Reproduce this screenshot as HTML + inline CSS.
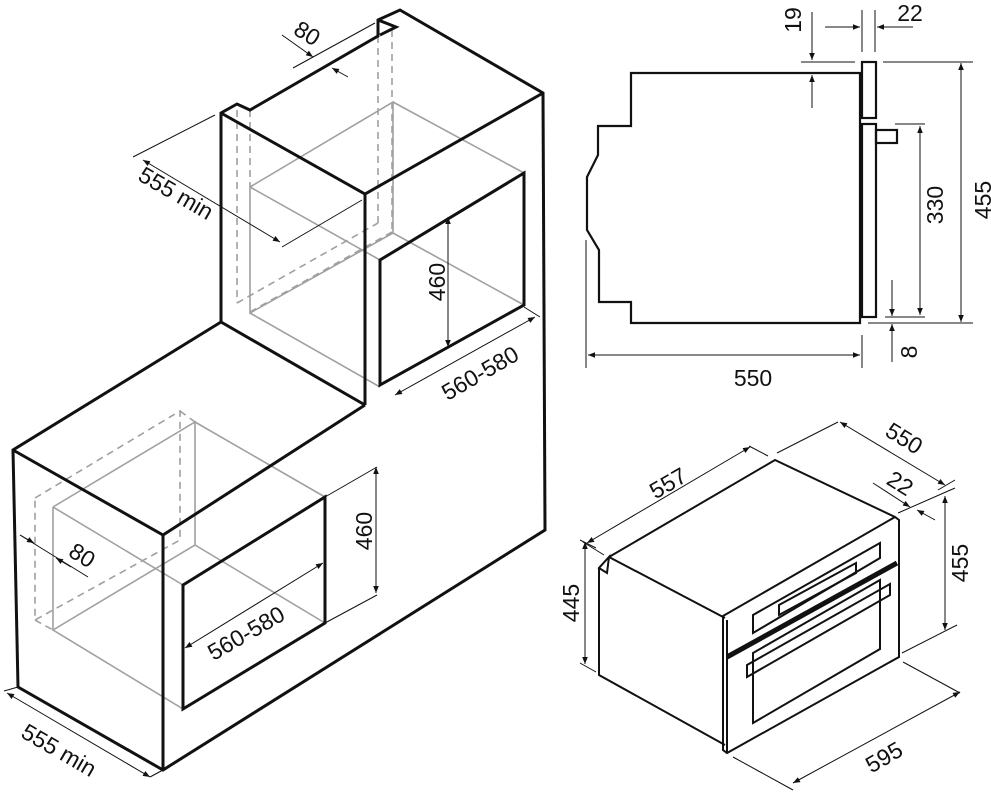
<!DOCTYPE html>
<html><head><meta charset="utf-8"><style>
html,body{margin:0;padding:0;background:#fff}
svg{display:block}
text{font-family:"Liberation Sans",sans-serif;font-size:23px;fill:#111}
</style></head><body>
<svg width="991" height="792" viewBox="0 0 991 792" xmlns="http://www.w3.org/2000/svg">
<defs>
<marker id="a" viewBox="0 0 10 10" refX="10" refY="5" markerWidth="9" markerHeight="7" orient="auto-start-reverse" markerUnits="userSpaceOnUse"><path d="M0,1 L10,5 L0,9 z" fill="#111"/></marker>
</defs>
<g fill="none" stroke-linejoin="miter">
<g stroke="#a0a0a0" stroke-width="1.6">
<polyline points="250,187 393,102 393,233 250,313 250,187"/>
<line x1="393" y1="102" x2="524" y2="173"/>
<line x1="250" y1="187" x2="380" y2="260"/>
<line x1="393" y1="233" x2="524" y2="305"/>
<line x1="250" y1="313" x2="380" y2="387"/>
</g>
<g stroke="#a0a0a0" stroke-width="1.6" stroke-dasharray="7,5">
<line x1="237" y1="110" x2="237" y2="303"/>
<line x1="250" y1="110" x2="250" y2="187"/>
<line x1="378" y1="36" x2="378" y2="223"/>
<line x1="392" y1="30" x2="392" y2="230"/>
<line x1="237" y1="303" x2="378" y2="223"/>
<line x1="250" y1="312" x2="392" y2="232"/>
</g>
<g stroke="#a0a0a0" stroke-width="1.6">
<polyline points="53,507 195,422 195,545 53,630 53,507"/>
<line x1="195" y1="422" x2="325" y2="497"/>
<line x1="53" y1="507" x2="183" y2="585"/>
<line x1="195" y1="545" x2="325" y2="623"/>
<line x1="53" y1="630" x2="183" y2="709"/>
</g>
<g stroke="#a0a0a0" stroke-width="1.6" stroke-dasharray="7,5">
<polyline points="35,498 180,411 180,540 35,620 35,498"/>
<line x1="180" y1="411" x2="195" y2="422"/>
<line x1="35" y1="620" x2="53" y2="630"/>
</g>
<g stroke="#111" stroke-width="3">
<polyline points="221,322 221,113 237,104 250,110 378,36 378,20 400,10 543,93 545,530 163,770 18,687 13,450 221,322"/>
<polyline points="378,20 396,27 380,35"/>
<polyline points="221,113 365,194 543,93"/>
<line x1="365" y1="194" x2="365" y2="405"/>
<line x1="221" y1="322" x2="365" y2="405"/>
<polyline points="13,450 163,535 365,405"/>
<line x1="163" y1="535" x2="163" y2="770"/>
<polygon points="380,260 524,173 524,305 380,385"/>
<polygon points="183,585 325,497 325,623 183,709"/>
</g>
<g stroke="#111" stroke-width="1">
<line x1="293" y1="68" x2="375" y2="23"/>
<line x1="282" y1="35" x2="313" y2="57" marker-end="url(#a)"/>
<line x1="348" y1="77" x2="332" y2="68" marker-end="url(#a)"/>
<line x1="133" y1="157" x2="215" y2="115"/>
<line x1="282" y1="247" x2="362" y2="200"/>
<line x1="143" y1="160" x2="280" y2="242" marker-start="url(#a)" marker-end="url(#a)"/>
<line x1="448" y1="217" x2="448" y2="347" marker-start="url(#a)" marker-end="url(#a)"/>
<line x1="524" y1="307" x2="540" y2="317"/>
<line x1="395" y1="395" x2="535" y2="317" marker-start="url(#a)" marker-end="url(#a)"/>
<line x1="20" y1="535" x2="88" y2="577"/>
<line x1="20" y1="535" x2="34" y2="543" marker-end="url(#a)"/>
<line x1="71" y1="567" x2="56" y2="558" marker-end="url(#a)"/>
<line x1="325" y1="497" x2="377" y2="467"/>
<line x1="325" y1="623" x2="377" y2="595"/>
<line x1="376" y1="467" x2="376" y2="593" marker-start="url(#a)" marker-end="url(#a)"/>
<line x1="185" y1="648" x2="323" y2="563" marker-start="url(#a)" marker-end="url(#a)"/>
<line x1="4" y1="691" x2="18" y2="687"/>
<line x1="150" y1="777" x2="163" y2="770"/>
<line x1="7" y1="693" x2="150" y2="777" marker-start="url(#a)" marker-end="url(#a)"/>
</g>
<g stroke="#111" stroke-width="2.2">
<polygon points="631,73 860,73 860,323 631,323 631,302 599,302 599,250 587,230 587,177 598,155 598,126 631,126"/>
<rect x="862" y="62" width="14" height="56"/>
<rect x="862" y="124" width="14" height="193"/>
<rect x="876" y="130" width="21" height="13"/>
</g>
<g stroke="#111" stroke-width="1">
<line x1="586" y1="240" x2="586" y2="368"/>
<line x1="862" y1="335" x2="862" y2="368"/>
<line x1="588" y1="355" x2="860" y2="355" marker-start="url(#a)" marker-end="url(#a)"/>
<line x1="883" y1="62" x2="973" y2="62"/>
<line x1="868" y1="323" x2="973" y2="323"/>
<line x1="961" y1="63" x2="961" y2="322" marker-start="url(#a)" marker-end="url(#a)"/>
<line x1="895" y1="124" x2="925" y2="124"/>
<line x1="885" y1="317" x2="925" y2="317"/>
<line x1="920" y1="126" x2="920" y2="315" marker-start="url(#a)" marker-end="url(#a)"/>
<line x1="892" y1="280" x2="892" y2="316" marker-end="url(#a)"/>
<line x1="892" y1="362" x2="892" y2="324" marker-end="url(#a)"/>
<line x1="801" y1="62" x2="855" y2="62"/>
<line x1="812" y1="12" x2="812" y2="60" marker-end="url(#a)"/>
<line x1="812" y1="108" x2="812" y2="75" marker-end="url(#a)"/>
<line x1="862" y1="10" x2="862" y2="52"/>
<line x1="875" y1="10" x2="875" y2="52"/>
<line x1="825" y1="27" x2="860" y2="27" marker-end="url(#a)"/>
<line x1="913" y1="27" x2="877" y2="27" marker-end="url(#a)"/>
</g>
<g stroke="#111" stroke-width="2">
<polyline points="609,557 775,460 895,517"/>
<polyline points="609,557 599,568 599,675 725,745"/>
<polyline points="609,557 725,618"/>
<polygon points="599,568 609,557 607,573" fill="#fff"/>
<polygon points="723,616 895,517 899,520 899,657 727,753 723,750"/>
<line x1="727" y1="620" x2="727" y2="753"/>
<polygon points="753,615 880,543 880,558 753,633"/>
<polygon points="779,605 856,563 856,573 779,615"/>
<polygon points="747,665 890,584 890,595 747,677"/>
<polygon points="753,653 880,580 880,649 753,723"/>
</g>
<line x1="727" y1="657" x2="897" y2="563" stroke="#111" stroke-width="5"/>
<g stroke="#111" stroke-width="1">
<line x1="583" y1="542" x2="604" y2="555"/>
<line x1="749" y1="446" x2="768" y2="456"/>
<line x1="587" y1="543" x2="750" y2="447" marker-start="url(#a)" marker-end="url(#a)"/>
<line x1="777" y1="453" x2="838" y2="422"/>
<line x1="938" y1="490" x2="955" y2="480"/>
<line x1="840" y1="422" x2="945" y2="485" marker-start="url(#a)" marker-end="url(#a)"/>
<line x1="873" y1="483" x2="910" y2="507" marker-end="url(#a)"/>
<line x1="935" y1="520" x2="917" y2="510" marker-end="url(#a)"/>
<line x1="898" y1="513" x2="955" y2="488"/>
<line x1="902" y1="653" x2="957" y2="625"/>
<line x1="945" y1="496" x2="945" y2="630" marker-start="url(#a)" marker-end="url(#a)"/>
<line x1="733" y1="757" x2="793" y2="790"/>
<line x1="903" y1="662" x2="960" y2="693"/>
<line x1="793" y1="783" x2="960" y2="692" marker-start="url(#a)" marker-end="url(#a)"/>
<line x1="580" y1="540" x2="596" y2="548"/>
<line x1="580" y1="663" x2="596" y2="672"/>
<line x1="585" y1="542" x2="585" y2="664" marker-start="url(#a)" marker-end="url(#a)"/>
</g>
</g>
<text transform="translate(303,40) rotate(32)" text-anchor="middle">80</text>
<text transform="translate(172,200) rotate(30)" text-anchor="middle">555 min</text>
<text transform="translate(445,282) rotate(-90)" text-anchor="middle">460</text>
<text transform="translate(484,380) rotate(-30)" text-anchor="middle">560-580</text>
<text transform="translate(78,562) rotate(32)" text-anchor="middle">80</text>
<text transform="translate(372,531) rotate(-90)" text-anchor="middle">460</text>
<text transform="translate(250,640) rotate(-30)" text-anchor="middle">560-580</text>
<text transform="translate(55,757) rotate(30)" text-anchor="middle">555 min</text>
<text x="753" y="386" text-anchor="middle">550</text>
<text transform="translate(991,200) rotate(-90)" text-anchor="middle">455</text>
<text transform="translate(943,205) rotate(-90)" text-anchor="middle">330</text>
<text transform="translate(917,352) rotate(-90)" text-anchor="middle">8</text>
<text transform="translate(801,20) rotate(-90)" text-anchor="middle">19</text>
<text x="910" y="21" text-anchor="middle">22</text>
<text transform="translate(672,490) rotate(-30)" text-anchor="middle">557</text>
<text transform="translate(900,445) rotate(32)" text-anchor="middle">550</text>
<text transform="translate(896,490) rotate(32)" text-anchor="middle">22</text>
<text transform="translate(968,563) rotate(-90)" text-anchor="middle">455</text>
<text transform="translate(888,764) rotate(-30)" text-anchor="middle">595</text>
<text transform="translate(579,603) rotate(-90)" text-anchor="middle">445</text>
</svg>
</body></html>
